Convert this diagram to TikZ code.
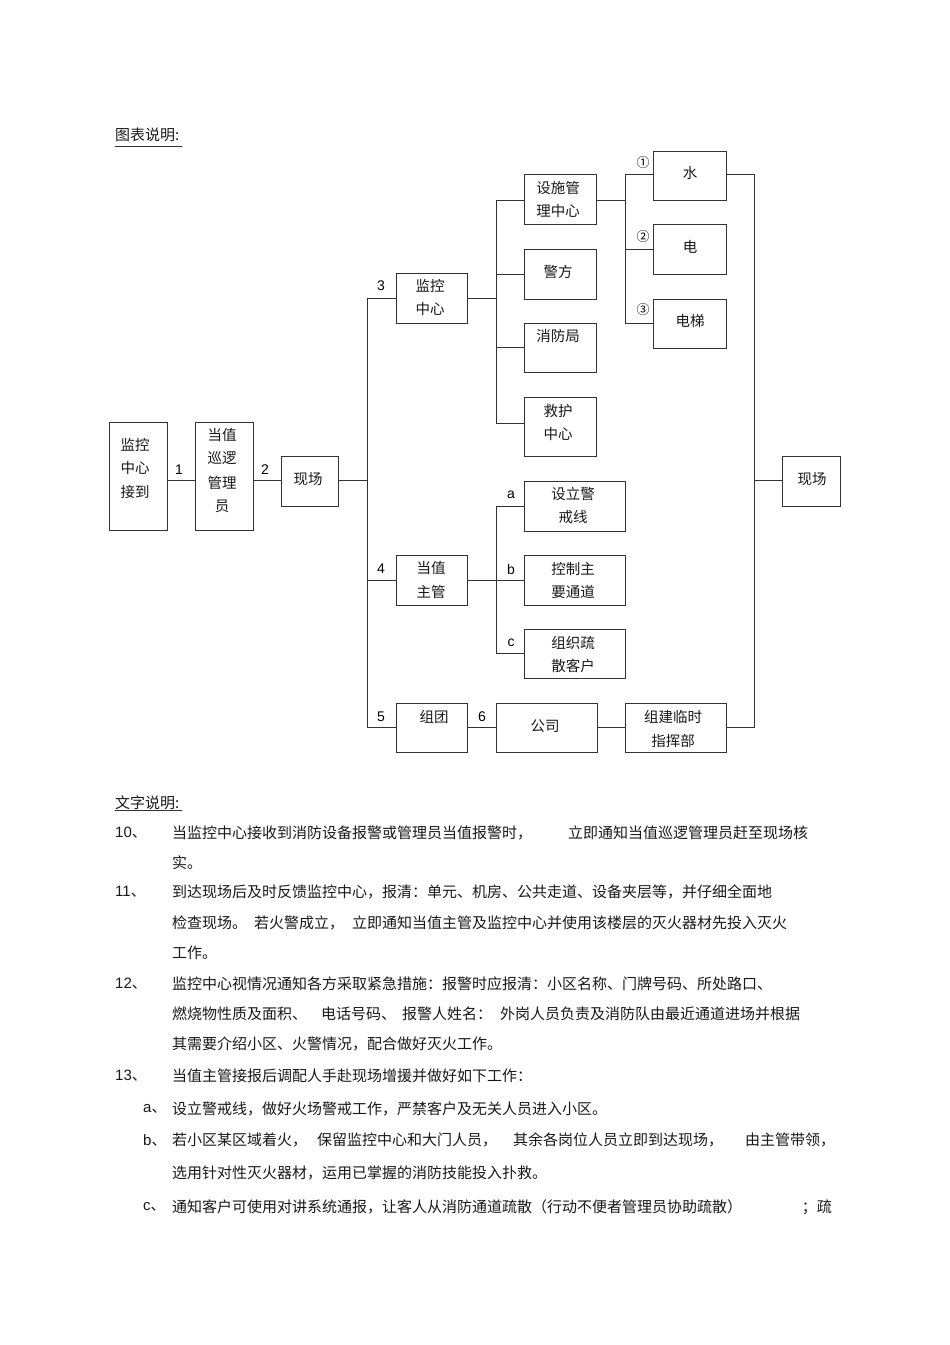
\documentclass[tikz,border=0pt]{standalone}
\usepackage{fontspec}
\setmainfont{Noto Sans CJK SC}
\newfontfamily\lat{Liberation Sans}
\begin{document}
\begin{tikzpicture}[x=1pt,y=-1pt,
  box/.style={draw=black!80, line width=0.8pt, inner sep=0pt, outer sep=0pt},
  conn/.style={draw=black!80, line width=0.8pt},
  txt/.style={font=\fontsize{14.5}{14.5}\selectfont, inner sep=0pt, text=black!90},
  para/.style={font=\fontsize{15}{15}\selectfont, inner sep=0pt, text=black!90, anchor=west},
  lbl/.style={font=\lat\fontsize{14}{14}\selectfont, inner sep=0pt},
  circ/.style={font=\fontsize{13}{13}\selectfont, inner sep=0pt}]
\useasboundingbox[fill=white] (0,0) rectangle (950,1345);

% ---------- titles ----------
\node[para] (t1) at (115,135) {图表说明:};
\draw[conn, line width=0.7pt] (115,146) -- (182,146);
\node[para] (t2) at (115,803) {文字说明:};
\draw[conn, line width=0.7pt] (115,810) -- (182,810);

% ---------- boxes ----------
\node[box, minimum width=58pt, minimum height=108pt] (jk1) at (138,476) {};
\node[box, minimum width=58pt, minimum height=108pt] (xl) at (224,476) {};
\node[box, minimum width=57pt, minimum height=50pt] (xc1) at (309.5,481) {};
\node[box, minimum width=71pt, minimum height=50pt] (jk2) at (431.5,298) {};
\node[box, minimum width=71pt, minimum height=50pt] (zg) at (431.5,580) {};
\node[box, minimum width=71pt, minimum height=49pt] (zt) at (431.5,727.5) {};
\node[box, minimum width=72pt, minimum height=50pt] (ss) at (560,199) {};
\node[box, minimum width=72pt, minimum height=50pt] (jf) at (560,274) {};
\node[box, minimum width=72pt, minimum height=49pt] (xf) at (560,347.5) {};
\node[box, minimum width=72pt, minimum height=59pt] (jh) at (560,426.5) {};
\node[box, minimum width=73pt, minimum height=49pt] (sh) at (689.5,175.5) {};
\node[box, minimum width=73pt, minimum height=50pt] (dn) at (689.5,249) {};
\node[box, minimum width=73pt, minimum height=49pt] (dt) at (689.5,323.5) {};
\node[box, minimum width=101pt, minimum height=50pt] (ba) at (574.5,506) {};
\node[box, minimum width=101pt, minimum height=50pt] (bb) at (574.5,580) {};
\node[box, minimum width=101pt, minimum height=49pt] (bc) at (574.5,653.5) {};
\node[box, minimum width=101pt, minimum height=49pt] (gs) at (546.5,727.5) {};
\node[box, minimum width=101pt, minimum height=49pt] (zj) at (675.5,727.5) {};
\node[box, minimum width=58pt, minimum height=50pt] (xc2) at (811,481) {};

% ---------- box texts ----------
\node[txt] at (135,445) {监控};
\node[txt] at (135,468) {中心};
\node[txt] at (135,492) {接到};
\node[txt] at (222,435) {当值};
\node[txt] at (222,458) {巡逻};
\node[txt] at (222,483) {管理};
\node[txt] at (222,506) {员};
\node[txt] at (308,479) {现场};
\node[txt] at (430,286) {监控};
\node[txt] at (430,309) {中心};
\node[txt] at (558,188) {设施管};
\node[txt] at (558,211) {理中心};
\node[txt] at (558,272) {警方};
\node[txt] at (558,336) {消防局};
\node[txt] at (558,411) {救护};
\node[txt] at (558,434) {中心};
\node[txt] at (690,173) {水};
\node[txt] at (690,247) {电};
\node[txt] at (690,321) {电梯};
\node[txt] at (573,494) {设立警};
\node[txt] at (573,517) {戒线};
\node[txt] at (573,569) {控制主};
\node[txt] at (573,592) {要通道};
\node[txt] at (573,643) {组织疏};
\node[txt] at (573,666) {散客户};
\node[txt] at (431,568) {当值};
\node[txt] at (431,592) {主管};
\node[txt] at (434,717) {组团};
\node[txt] at (545,726) {公司};
\node[txt] at (673,717) {组建临时};
\node[txt] at (673,741) {指挥部};
\node[txt] at (812,479) {现场};

% ---------- connector labels ----------
\node[lbl] at (179,470) {1};
\node[lbl] at (265,470) {2};
\node[lbl] at (381,286) {3};
\node[lbl] at (381,569) {4};
\node[lbl] at (381,717) {5};
\node[lbl] at (482,717) {6};
\node[lbl] at (511,495) {a};
\node[lbl] at (511,569) {b};
\node[lbl] at (511,643) {c};
\node[circ] at (643,163) {①};
\node[circ] at (643,237) {②};
\node[circ] at (643,310) {③};

% ---------- bus coordinates ----------
\coordinate (y480) at (0,480);
\coordinate (y200) at (0,200);
\coordinate (y423) at (0,423);
\coordinate (y174) at (0,174);
\coordinate (b1) at (367,0);
\coordinate (b2) at (496,0);
\coordinate (b3) at (625,0);
\coordinate (b5) at (754,0);

% ---------- connectors ----------
\draw[conn] (jk1.east |- y480) -- (xl.west |- y480);
\draw[conn] (xl.east |- y480) -- (xc1.west |- y480);
\draw[conn] (xc1.east |- y480) -- (b1 |- y480);
\draw[conn] (jk2.west) -- (b1 |- jk2.west) -- (b1 |- zt.west) -- (zt.west);
\draw[conn] (b1 |- zg.west) -- (zg.west);
% monitoring centre branch
\draw[conn] (jk2.east) -- (b2 |- jk2.east);
\draw[conn] (ss.west |- y200) -- (b2 |- y200) -- (b2 |- y423) -- (jh.west |- y423);
\draw[conn] (b2 |- jf.west) -- (jf.west);
\draw[conn] (b2 |- xf.west) -- (xf.west);
% facilities branch
\draw[conn] (ss.east |- y200) -- (b3 |- y200);
\draw[conn] (sh.west |- y174) -- (b3 |- y174) -- (b3 |- dt.west) -- (dt.west);
\draw[conn] (b3 |- dn.west) -- (dn.west);
% supervisor branch
\draw[conn] (zg.east) -- (b2 |- zg.east);
\draw[conn] (ba.west) -- (b2 |- ba.west) -- (b2 |- bc.west) -- (bc.west);
\draw[conn] (b2 |- bb.west) -- (bb.west);
% bottom row
\draw[conn] (zt.east) -- (gs.west);
\draw[conn] (gs.east) -- (zj.west);
% right bus
\draw[conn] (sh.east |- y174) -- (b5 |- y174) -- (b5 |- zj.east) -- (zj.east);
\draw[conn] (b5 |- y480) -- (xc2.west |- y480);

% ---------- paragraphs ----------
\node[para] at (115,833) {{\lat 10}、};
\node[para] at (172,833) {当监控中心接收到消防设备报警或管理员当值报警时，};
\node[para] at (568,833) {立即通知当值巡逻管理员赶至现场核};
\node[para] at (172,863) {实。};

\node[para] at (115,892) {{\lat 11}、};
\node[para] at (172,892) {到达现场后及时反馈监控中心，报清：单元、机房、公共走道、设备夹层等，并仔细全面地};
\node[para] at (172,923) {检查现场。};
\node[para] at (254,923) {若火警成立，};
\node[para] at (352,923) {立即通知当值主管及监控中心并使用该楼层的灭火器材先投入灭火};
\node[para] at (172,953) {工作。};

\node[para] at (115,984) {{\lat 12}、};
\node[para] at (172,984) {监控中心视情况通知各方采取紧急措施：报警时应报清：小区名称、门牌号码、所处路口、};
\node[para] at (172,1014) {燃烧物性质及面积、};
\node[para] at (321,1014) {电话号码、};
\node[para] at (402,1014) {报警人姓名：};
\node[para] at (500,1014) {外岗人员负责及消防队由最近通道进场并根据};
\node[para] at (172,1044) {其需要介绍小区、火警情况，配合做好灭火工作。};

\node[para] at (115,1076) {{\lat 13}、};
\node[para] at (172,1076) {当值主管接报后调配人手赴现场增援并做好如下工作：};

\node[para] at (143,1109) {{\lat a}、};
\node[para] at (172,1109) {设立警戒线，做好火场警戒工作，严禁客户及无关人员进入小区。};
\node[para] at (143,1140) {{\lat b}、};
\node[para] at (172,1140) {若小区某区域着火，};
\node[para] at (317,1140) {保留监控中心和大门人员，};
\node[para] at (513,1140) {其余各岗位人员立即到达现场，};
\node[para] at (745,1140) {由主管带领，};
\node[para] at (172,1173) {选用针对性灭火器材，运用已掌握的消防技能投入扑救。};
\node[para] at (143,1207) {{\lat c}、};
\node[para] at (172,1207) {通知客户可使用对讲系统通报，让客人从消防通道疏散（行动不便者管理员协助疏散）};
\node[para, anchor=east] at (832,1207) {；疏};
\end{tikzpicture}
\end{document}
